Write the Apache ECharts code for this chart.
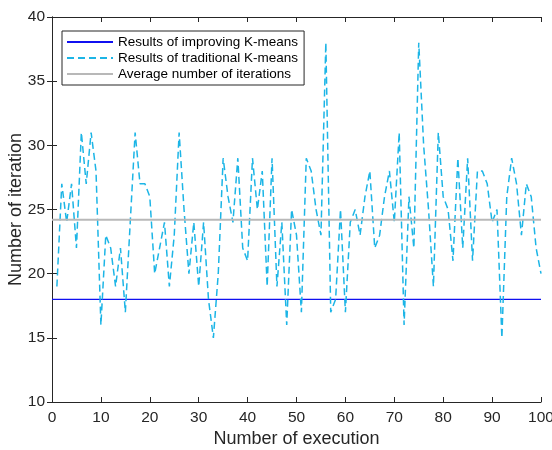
<!DOCTYPE html>
<html>
<head>
<meta charset="utf-8">
<script src="https://cdn.jsdelivr.net/npm/echarts@6/dist/echarts.min.js"></script>
<style>
html,body{margin:0;padding:0;background:#fff;}
#chart{width:552px;height:450px;}
</style>
</head>
<body>
<div id="chart"></div>
<script>
var executions = [];
for (var k = 1; k <= 100; k++) executions.push(k);

var traditional = [
19,27,24,27,22,31,27,31,28,16,
23,22,19,22,17,24,31,27,27,26,
20,22,24,19,23,31,25,20,24,19,
24,18,15,20,29,26,24,29,22,21,
29,25,28,19,29,19,24,16,25,23,
17,29,28,25,23,38,17,18,25,17,
24,25,23,26,28,22,23,26,28,24,
31,16,26,22,38,30,25,19,31,26,
25,21,29,22,29,21,28,28,27,24,
25,15,26,29,27,23,27,26,22,20
];
var improvingValue = 18;
var averageValue = 24.2;
var improvingX = [0, 100];
var averageX = [0, 100];

var seriesNames = [
  "Results of improving K-means",
  "Results of traditional K-means",
  "Average number of iterations"
];

var tradData = executions.map(function(x, i){ return [x, traditional[i]]; });
var impData = improvingX.map(function(x){ return [x, improvingValue]; });
var avgData = averageX.map(function(x){ return [x, averageValue]; });

var font = "'Liberation Sans', Arial, Helvetica, sans-serif";
var axisColor = "#262626";

var chart = echarts.init(document.getElementById('chart'), null, {renderer:'canvas'});
var option = {
  backgroundColor: '#ffffff',
  animation: false,
  grid: {left: 52, right: 11, top: 17, bottom: 48, containLabel: false, outerBoundsMode: 'none'},
  legend: {
    show: true,
    orient: 'vertical',
    left: 62, top: 31,
    data: seriesNames,
    backgroundColor: '#ffffff',
    borderColor: axisColor,
    borderWidth: 1,
    padding: [4, 6, 4, 4],
    itemGap: 2,
    itemWidth: 46,
    itemHeight: 12,
    itemStyle: {opacity: 0},
    textStyle: {fontFamily: font, fontSize: 13.5, color: '#000'}
  },
  xAxis: [{
    type: 'value', min: 0, max: 100, interval: 10,
    position: 'bottom',
    name: 'Number of execution', nameLocation: 'middle', nameGap: 28,
    nameMoveOverlap: false,
    nameTextStyle: {fontFamily: font, fontSize: 18, color: axisColor},
    axisLine: {show: true, lineStyle: {color: axisColor, width: 1}},
    axisTick: {show: true, inside: true, length: 5, lineStyle: {color: axisColor}},
    axisLabel: {fontFamily: font, fontSize: 15.5, color: axisColor, margin: 8},
    splitLine: {show: false}
  }, {
    type: 'value', min: 0, max: 100, interval: 10,
    position: 'top',
    axisLine: {show: true, lineStyle: {color: axisColor, width: 1}},
    axisTick: {show: true, inside: true, length: 5, lineStyle: {color: axisColor}},
    axisLabel: {show: false},
    splitLine: {show: false}
  }],
  yAxis: [{
    type: 'value', min: 10, max: 40, interval: 5,
    position: 'left',
    name: 'Number of iteration', nameLocation: 'middle', nameGap: 27,
    nameMoveOverlap: false,
    nameTextStyle: {fontFamily: font, fontSize: 18, color: axisColor},
    axisLine: {show: true, lineStyle: {color: axisColor, width: 1}},
    axisTick: {show: true, inside: true, length: 5, lineStyle: {color: axisColor}},
    axisLabel: {fontFamily: font, fontSize: 15.5, color: axisColor, margin: 7},
    splitLine: {show: false}
  }, {
    type: 'value', min: 10, max: 40, interval: 5,
    position: 'right',
    axisLine: {show: true, lineStyle: {color: axisColor, width: 1}},
    axisTick: {show: true, inside: true, length: 5, lineStyle: {color: axisColor}},
    axisLabel: {show: false},
    splitLine: {show: false}
  }],
  series: [{
    name: seriesNames[0], type: 'line', data: impData,
    symbol: 'none', color: '#1010f0',
    lineStyle: {color: '#1010f0', width: 1.3}
  }, {
    name: seriesNames[1], type: 'line', data: tradData,
    symbol: 'none', color: '#1cb5e6',
    lineStyle: {color: '#1cb5e6', width: 1.5, type: [7, 4]}
  }, {
    name: seriesNames[2], type: 'line', data: avgData,
    symbol: 'none', color: '#b8b8b8',
    lineStyle: {color: '#b8b8b8', width: 2}
  }]
};
chart.setOption(option);
</script>
</body>
</html>
